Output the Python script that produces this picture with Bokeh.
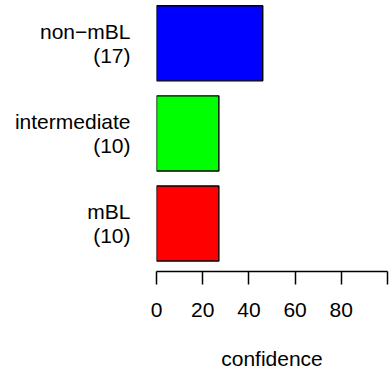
import numpy as np
from bokeh.plotting import figure
from bokeh.models import Range1d, FixedTicker, ColumnDataSource
from bokeh.embed import file_html
from bokeh.resources import INLINE

categories = ["mBL", "intermediate", "non\u2212mBL"]
counts = [10, 10, 17]
confidence = [27, 27, 46]
colors = ["#FF0000", "#00FF00", "#0000FF"]
x_tick_values = [0, 20, 40, 60, 80, 100]
x_tick_labels = ["0", "20", "40", "60", "80", ""]
x_label = "confidence"

ypos = np.arange(len(categories))
source = ColumnDataSource(dict(y=ypos, right=confidence, color=colors))

FONT = "Liberation Sans"
FS = "21px"

p = figure(width=390, height=377, output_backend="svg", toolbar_location=None,
           x_range=Range1d(0, 100), y_range=Range1d(-0.533, 2.475),
           min_border_left=156, min_border_right=3, min_border_top=0,
           min_border_bottom=106)
p.outline_line_color = None
p.xgrid.visible = False
p.ygrid.visible = False

p.hbar(y="y", left=0, right="right", height=1 / 1.2, fill_color="color",
       line_color="black", line_width=1.4, source=source)

# x axis
xa = p.xaxis[0]
xa.ticker = FixedTicker(ticks=x_tick_values)
xa.major_label_overrides = {v: l for v, l in zip(x_tick_values, x_tick_labels)}
xa.axis_line_width = 1.5
xa.major_tick_line_width = 1.5
xa.major_tick_out = 13
xa.major_tick_in = 0
xa.minor_tick_out = 0
xa.minor_tick_in = 0
xa.major_label_standoff = 18
xa.major_label_text_font = FONT
xa.major_label_text_font_size = FS
xa.major_label_text_color = "black"
xa.axis_label = x_label
xa.axis_label_text_font = FONT
xa.axis_label_text_font_size = FS
xa.axis_label_text_font_style = "normal"
xa.axis_label_text_color = "black"
xa.axis_label_standoff = 27

# y axis (category labels)
ya = p.yaxis[0]
ya.ticker = FixedTicker(ticks=list(ypos))
ya.major_label_overrides = {int(i): f"{c}\n({n})" for i, c, n in zip(ypos, categories, counts)}
ya.axis_line_color = None
ya.major_tick_line_color = None
ya.minor_tick_line_color = None
ya.major_tick_out = 0
ya.major_tick_in = 0
ya.major_label_standoff = 26
ya.major_label_text_font = FONT
ya.major_label_text_font_size = FS
ya.major_label_text_color = "black"
ya.major_label_text_line_height = 1.05

open("out.html", "w").write(file_html(p, INLINE))
